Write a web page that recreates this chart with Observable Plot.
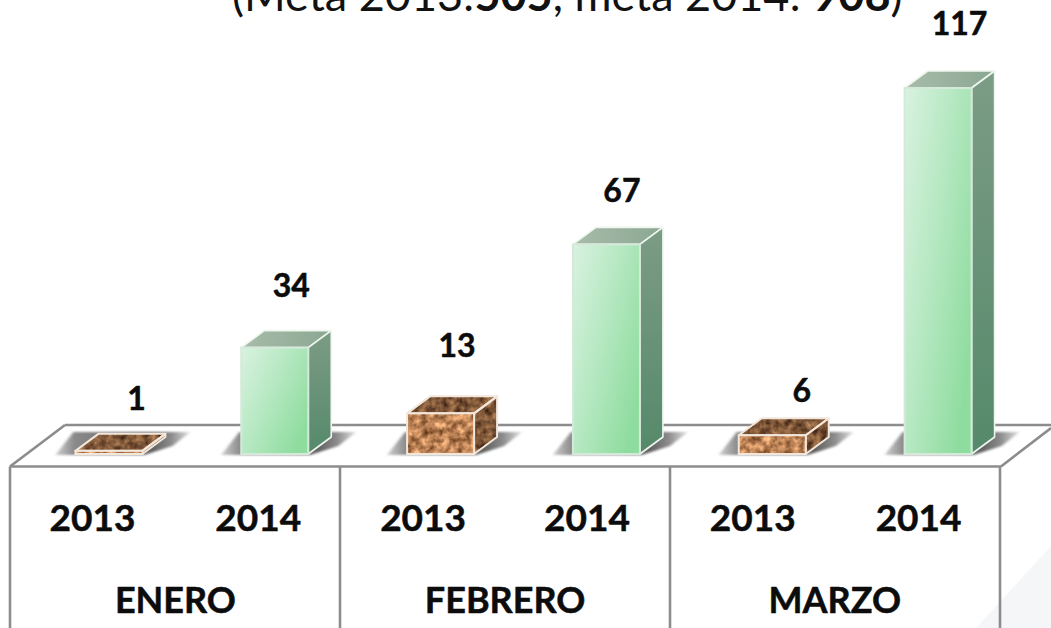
<!DOCTYPE html>
<html><head><meta charset="utf-8">
<script src="https://cdn.jsdelivr.net/npm/d3@7"></script>
<script src="https://cdn.jsdelivr.net/npm/@observablehq/plot@0.6"></script>
<style>html,body{margin:0;padding:0;background:#fff;overflow:hidden}svg{display:block}</style>
</head><body><div id="chart"></div>
<script>
// Data
const months = ["ENERO", "FEBRERO", "MARZO"];
const years = ["2013", "2014"];
const values = [1, 34, 13, 67, 6, 117];
const titleParts = [["(Meta 2013:", 400], ["505", 700], [", meta 2014: ", 400], ["908", 700], [")", 400]];

const rows = values.map((v, i) => ({
  key: months[Math.floor(i / 2)] + " " + years[i % 2],
  month: months[Math.floor(i / 2)], year: years[i % 2], value: v
}));

// Layout and style
const W = 1051, H = 628, FONT = "Lato, Carlito, sans-serif";
const depthX = 23, depthY = -17;
const labelNudge = [[27, -52], [16, -61], [16, -67], [15, -53], [29, -44], [21, -64]];
const yearDx = [-17, -17, -18, -20, -20, -20];
const monthDx = [66, 64, 62];
const grid = {left: 10, col: 330, front: 466.5, backLeft: 65, back: 425, right: 1001};
const ink = {fill: "#0c0c0c", stroke: "#0c0c0c", strokeWidth: 0.5, fontWeight: 700};

const defs = () => {
  const g = d3.create("svg:defs");
  const lin = (id, x2, y2, stops) => {
    const l = g.append("linearGradient").attr("id", id).attr("x1", 0).attr("y1", 0).attr("x2", x2).attr("y2", y2);
    stops.forEach(([o, c]) => l.append("stop").attr("offset", o).attr("stop-color", c));
  };
  lin("gFront", 1, 0.7, [[0, "#d9f2e0"], [0.5, "#b5e8c1"], [1, "#8fdc9f"]]);
  lin("gSide", 0, 1, [[0, "#7c9c85"], [1, "#55896a"]]);
  lin("gTop", 1, 0, [[0, "#a8bcaa"], [1, "#8aa792"]]);
  lin("gShadow", 1, 0, [[0, "#d0d0d0"], [0.14, "#8a8a8a"], [0.72, "#626262"], [0.86, "#8c8c8c"], [1, "#e2e2e2"]]);
  const tex = (id, seed, r, gr, b) => {
    const f = g.append("filter").attr("id", id).attr("x", 0).attr("y", 0).attr("width", 1).attr("height", 1)
      .attr("color-interpolation-filters", "sRGB");
    f.append("feTurbulence").attr("type", "fractalNoise").attr("baseFrequency", "0.14").attr("numOctaves", 3).attr("seed", seed).attr("result", "n");
    f.append("feColorMatrix").attr("in", "n").attr("type", "matrix").attr("values",
      `${r[0]} 0 0 0 ${r[1]}  ${gr[0]} 0 0 0 ${gr[1]}  ${b[0]} 0 0 0 ${b[1]}  0 0 0 0 1`).attr("result", "c");
    f.append("feComposite").attr("in", "c").attr("in2", "SourceAlpha").attr("operator", "in");
  };
  tex("tFront", 4, [0.95, 0.26], [0.8, 0.11], [0.65, 0.01]);
  tex("tDark", 9, [0.75, 0.12], [0.6, 0.04], [0.42, 0.01]);
  g.append("filter").attr("id", "blur").attr("x", "-20%").attr("y", "-40%").attr("width", "140%").attr("height", "180%")
    .append("feGaussianBlur").attr("stdDeviation", "1.6 1.2");
  return g.node();
};

const poly = (g, pts, a) => {
  const p = g.append("polygon").attr("points", pts.map(d => d.join(",")).join(" "));
  Object.entries(a).forEach(([k, v]) => p.attr(k, v));
  return p;
};

// Floor, table lines and the pale corner shape
const frameMark = () => {
  const g = d3.create("svg:g");
  poly(g, [[976, H], [W, 546], [W, H]], {fill: "#f5f6f8"});
  const l = (x1, y1, x2, y2) => g.append("line").attr("x1", x1).attr("y1", y1).attr("x2", x2).attr("y2", y2)
    .attr("stroke", "#8c8c8c").attr("stroke-width", 2.6);
  l(grid.left, grid.front, grid.backLeft, grid.back);
  l(grid.backLeft, grid.back, W, grid.back);
  l(grid.left, grid.front, grid.right, grid.front);
  l(grid.right, grid.front, W, 428);
  for (let i = 0; i <= 3; i++) l(grid.left + i * grid.col, grid.front, grid.left + i * grid.col, H);
  return g.node();
};

// Shadows and the depth faces of each bar, from the scales
const shadowMark = (index, {x, y}) => {
  const g = d3.create("svg:g");
  const bw = x.bandwidth();
  const y0 = y(0);
  rows.forEach(d => {
    const a = x(d.key), b = a + bw;
    poly(g, [[a - 20, y0 + 1], [b + 2, y0 + 1], [b + 30, y0 - 8], [b + 48, y0 - 22], [a - 2, y0 - 22]],
      {fill: "url(#gShadow)", filter: "url(#blur)"});
  });
  return g.node();
};

const depthMark = (index, {x, y}) => {
  const g = d3.create("svg:g");
  const bw = x.bandwidth();
  rows.forEach(d => {
    const a = x(d.key), b = a + bw, t = y(d.value), o = y(0);
    const top = [[a, t], [b, t], [b + depthX, t + depthY], [a + depthX, t + depthY]];
    const side = [[b, t], [b + depthX, t + depthY], [b + depthX, o + depthY], [b, o]];
    const brown = d.year === "2013";
    const edge = brown ? {stroke: "#f3e6da", "stroke-width": 2, "stroke-linejoin": "round"}
                       : {stroke: "#eef6ee", "stroke-width": 1.6, "stroke-linejoin": "round"};
    if (brown) {
      poly(g, top, {fill: "#8a5a34", filter: "url(#tDark)"});
      poly(g, side, {fill: "#6e4526", filter: "url(#tDark)"});
      poly(g, top, {fill: "none", ...edge});
      poly(g, side, {fill: "none", ...edge});
    } else {
      poly(g, top, {fill: "url(#gTop)", ...edge});
      poly(g, side, {fill: "url(#gSide)", ...edge});
    }
  });
  return g.node();
};

const frontEdge = (index, {x, y}) => {
  const g = d3.create("svg:g");
  rows.forEach(d => {
    const brown = d.year === "2013";
    g.append("rect").attr("x", x(d.key)).attr("y", y(d.value)).attr("width", x.bandwidth()).attr("height", y(0) - y(d.value))
      .attr("fill", "none").attr("stroke", brown ? "#f3e6da" : "#d5e9da").attr("stroke-width", 2);
  });
  return g.node();
};

const titleMark = () => {
  const t = d3.create("svg:text").attr("x", 232).attr("y", 11).attr("text-anchor", "start")
    .attr("font-family", FONT).attr("font-size", 45).attr("fill", "#111");
  titleParts.forEach(([s, w]) => t.append("tspan").attr("font-weight", w).text(s));
  return t.node();
};

const chart = Plot.plot({
  width: W, height: H, margin: 0,
  style: {background: "transparent", fontFamily: FONT, overflow: "hidden"},
  x: {type: "band", domain: rows.map(d => d.key), range: [26, 1021], paddingInner: 0.596, paddingOuter: 0.298, round: false, axis: null},
  y: {type: "linear", domain: [0, 117], range: [454, 88], clamp: false, axis: null},
  marks: [
    frameMark,
    shadowMark,
    depthMark,
    Plot.barY(rows, {x: "key", y: "value", fill: "url(#gFront)", filter: d => d.year === "2014"}),
    Plot.barY(rows, {x: "key", y: "value", fill: "#b98257", filter: d => d.year === "2013",
      render(i, s, v, dim, ctx, next) {
        const n = next(i, s, v, dim, ctx);
        d3.select(n).selectAll("rect").attr("filter", "url(#tFront)");
        return n;
      }}),
    frontEdge,
    ...rows.map((d, i) => Plot.text([d], {x: "key", y: "value", text: r => String(r.value),
      dx: labelNudge[i][0], dy: labelNudge[i][1], fontSize: 32, ...ink})),
    ...rows.map((d, i) => Plot.text([d], {x: "key", text: "year", frameAnchor: "top", lineAnchor: "middle", dx: yearDx[i], dy: 519,
      fontSize: 37, ...ink})),
    ...months.map((m, i) => Plot.text([m], {x: () => m + " 2013", text: d => d, frameAnchor: "top", lineAnchor: "middle",
      dx: monthDx[i], dy: 601, fontSize: 36, ...ink})),
    titleMark
  ]
});
chart.insertBefore(defs(), chart.firstChild);
document.getElementById("chart").appendChild(chart);
</script></body></html>
